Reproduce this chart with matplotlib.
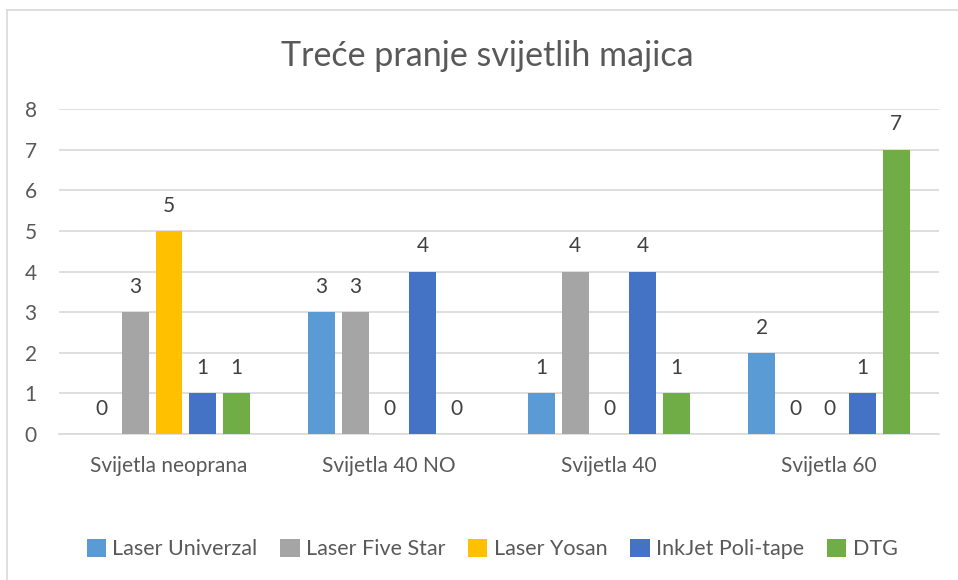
import matplotlib
matplotlib.use("Agg")
import matplotlib.pyplot as plt
import numpy as np
from matplotlib.lines import Line2D

# podaci
kategorije = ["Svijetla neoprana", "Svijetla 40 NO", "Svijetla 40", "Svijetla 60"]
serije = ["Laser Univerzal", "Laser Five Star", "Laser Yosan", "InkJet Poli-tape", "DTG"]
laser_univerzal = [0, 3, 1, 2]
laser_five_star = [3, 3, 4, 0]
laser_yosan = [5, 0, 0, 0]
inkjet_poli_tape = [1, 4, 4, 1]
dtg = [1, 0, 1, 7]
boje = ["#5B9BD5", "#A5A5A5", "#FFC000", "#4472C4", "#70AD47"]

vrijednosti = [laser_univerzal, laser_five_star, laser_yosan, inkjet_poli_tape, dtg]

plt.rcParams['font.family'] = ['Lato', 'DejaVu Sans']
siva = "#595959"

fig = plt.figure(figsize=(9.58, 5.80), dpi=100)
ax = fig.add_axes([59/958, 146/580, 880/958, 325/580])

x = np.arange(len(kategorije))
sirina = 0.1227
razmak = 0.153
for i, (ime, vals) in enumerate(zip(serije, vrijednosti)):
    pos = x + (i - 2) * razmak
    ax.bar(pos, vals, width=sirina, color=boje[i], label=ime, zorder=3)
    for p, v in zip(pos, vals):
        ax.text(p, v + 0.62, str(v), ha='center', va='center', fontsize=15, color="#404040")

ax.set_xlim(-0.5, 3.5)
ax.set_ylim(0, 8)
ax.set_yticks(range(0, 9))
ax.yaxis.grid(True, color="#D9D9D9", linewidth=1.2, zorder=0)
ax.tick_params(axis='y', length=0, labelsize=15, labelcolor=siva, pad=16)
ax.tick_params(axis='x', length=0, labelsize=15, labelcolor=siva, pad=16)
ax.set_xticks(x)
ax.set_xticklabels(kategorije)
for s in ['top', 'right', 'left']:
    ax.spines[s].set_visible(False)
ax.spines['bottom'].set_color("#D9D9D9")
ax.spines['bottom'].set_linewidth(1.2)

fig.text(487/958, 1 - 56/580, "Treće pranje svijetlih majica", ha='center', va='center',
         fontsize=24.5, color=siva)

ax.legend(loc='center', bbox_to_anchor=(492/958, 1 - 549/580), bbox_transform=fig.transFigure,
          ncol=5, frameon=False, fontsize=15.5, labelcolor=siva, handlelength=0.9,
          handleheight=0.9, handletextpad=0.3, columnspacing=1.05)

# okvir grafikona
fig.add_artist(Line2D([7/958, 1], [1 - 10/580, 1 - 10/580], color="#D9D9D9", linewidth=1.2))
fig.add_artist(Line2D([7/958, 7/958], [0, 1 - 10/580], color="#D9D9D9", linewidth=1.2))

fig.savefig("out.png", dpi=100)
